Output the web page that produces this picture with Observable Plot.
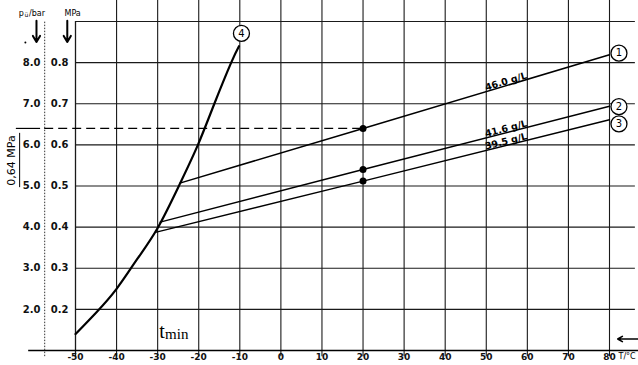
<!DOCTYPE html>
<html>
<head>
<meta charset="utf-8">
<script src="https://cdn.jsdelivr.net/npm/d3@7"></script>
<script src="https://cdn.jsdelivr.net/npm/@observablehq/plot@0.6"></script>
<style>
  html, body { margin: 0; padding: 0; background: #fff; }
</style>
</head>
<body>
<div id="chart"></div>
<script>
// ---- data ----
const tempTicks = [-50, -40, -30, -20, -10, 0, 10, 20, 30, 40, 50, 60, 70, 80];
const mpaTicks = [0.2, 0.3, 0.4, 0.5, 0.6, 0.7, 0.8];
const barLabels = ["2.0", "3.0", "4.0", "5.0", "6.0", "7.0", "8.0"];

// curve 4 (saturation curve)
const curve4T = [-50, -45, -40, -35, -30, -24.7, -20.2, -16.2, -12.1, -10.2];
const curve4P = [0.14, 0.192, 0.25, 0.322, 0.398, 0.503, 0.6, 0.7, 0.8, 0.84];

// isochores 1..3
const line1T = [-24.6, 20, 80];
const line1P = [0.507, 0.64, 0.819];
const line2T = [-29.4, 20, 80];
const line2P = [0.412, 0.54, 0.694];
const line3T = [-30.3, 20, 80];
const line3P = [0.388, 0.512, 0.661];
const lineLabels = ["46.0 g/L", "41.6 g/L", "39.5 g/L"];

const refT = 20;
const refDotsP = [0.64, 0.54, 0.512];
const refPressure = 0.64;
const refPressureLabel = "0,64 MPa";

const toRows = (T, P) => T.map((t, i) => ({T: t, P: P[i]}));
const c4 = toRows(curve4T, curve4P);
const l1 = toRows(line1T, line1P);
const l2 = toRows(line2T, line2P);
const l3 = toRows(line3T, line3P);

const W = 638, H = 365, ML = 75, MR = 29, MT = 21, MB = 15;
const kx = (W - ML - MR) / 130, ky = (H - MT - MB) / 0.8;
const ang = (rows) => -Math.atan(((rows[2].P - rows[1].P) / (rows[2].T - rows[1].T)) * ky / kx) * 180 / Math.PI;
const lineAt = (rows, t) => rows[1].P + (rows[2].P - rows[1].P) / (rows[2].T - rows[1].T) * (t - rows[1].T);

const labelT = 55;
const labelRows = [l1, l2, l3].map((r, i) => ({T: labelT, P: lineAt(r, labelT), text: lineLabels[i], rot: ang(r)}));
const circles = [
  {T: 82.3, P: 0.823, n: "1"},
  {T: 82.3, P: 0.693, n: "2"},
  {T: 82.3, P: 0.651, n: "3"},
  {T: -9.6, P: 0.871, n: "4"}
];

const gridCol = "#1a1a1a";
const font = "DejaVu Sans";

const chart = Plot.plot({
  width: W, height: H,
  marginLeft: ML, marginRight: MR, marginTop: MT, marginBottom: MB,
  x: {domain: [-50, 80]},
  y: {domain: [0.1, 0.9]},
  style: {fontFamily: font, fontSize: "10px", background: "#fff", color: "#111"},
  marks: [
    // horizontal grid + top border
    Plot.ruleY([...mpaTicks, 0.9], {x1: -50, x2: 86.3, stroke: gridCol, strokeWidth: 1.1, clip: false}),
    // vertical grid
    Plot.ruleX(tempTicks.slice(1), {y1: 0.085, y2: 0.952, stroke: gridCol, strokeWidth: 1.1, clip: false}),
    Plot.ruleX([-50], {y1: 0.085, y2: 0.9, stroke: gridCol, strokeWidth: 1.3, clip: false}),
    // bottom axis line
    Plot.ruleY([0.1], {x1: -61.4, x2: 87.5, stroke: "#000", strokeWidth: 1.6, clip: false}),
    // dotted bar-scale axis
    Plot.ruleX([-57.5], {y1: 0.085, y2: 0.9, stroke: "#333", strokeWidth: 1, strokeDasharray: "1.5,1.5", clip: false}),
    // reference pressure line
    Plot.ruleY([refPressure], {x1: -64.4, x2: -58.5, stroke: "#000", strokeWidth: 1.2, clip: false}),
    Plot.ruleY([refPressure], {x1: -57.5, x2: refT, stroke: "#000", strokeWidth: 1.2, strokeDasharray: "9,5", clip: false}),
    Plot.ruleX([-63.6], {y1: 0.496, y2: 0.628, stroke: "#000", strokeWidth: 1, clip: false}),
    Plot.text([refPressureLabel], {x: -65.5, y: 0.562, rotate: -90, fontSize: 11, fill: "#000", clip: false}),
    // curves
    Plot.line(c4, {x: "T", y: "P", stroke: "#000", strokeWidth: 2.2, curve: "natural"}),
    Plot.line(l1, {x: "T", y: "P", stroke: "#000", strokeWidth: 1.5}),
    Plot.line(l2, {x: "T", y: "P", stroke: "#000", strokeWidth: 1.4}),
    Plot.line(l3, {x: "T", y: "P", stroke: "#000", strokeWidth: 1.4}),
    Plot.dot(refDotsP, {x: refT, y: d => d, r: 3.5, fill: "#000", stroke: "none"}),
    // line labels
    Plot.text(labelRows, {x: "T", y: "P", text: "text", rotate: "rot", lineAnchor: "bottom", dy: -1, fontSize: 9.5, fontWeight: "bold", fill: "#000"}),
    // numbered circles
    Plot.dot(circles, {x: "T", y: "P", r: 8, fill: "#fff", stroke: "#000", strokeWidth: 1.3, clip: false}),
    Plot.text(circles, {x: "T", y: "P", text: "n", fontSize: 10, fill: "#000", clip: false}),
    // t_min
    Plot.text(["t"], {x: -29.6, y: 0.1, dy: -13, textAnchor: "start", lineAnchor: "bottom", fontFamily: "Liberation Serif", fontSize: 20, fill: "#000"}),
    Plot.text(["min"], {x: -28.2, y: 0.1, dy: -12, textAnchor: "start", lineAnchor: "bottom", fontFamily: "Liberation Serif", fontSize: 15, fill: "#000"}),
    // axes
    Plot.axisX(tempTicks, {tickSize: 0, tickPadding: 3, tickFormat: d => String(d), label: null, fontSize: 9, fontWeight: "bold"}),
    Plot.axisY(mpaTicks, {tickSize: 0, tickPadding: 7, tickFormat: d => d.toFixed(1), label: null, fontSize: 10, fontWeight: "bold"}),
    Plot.axisY(mpaTicks, {tickSize: 0, tickPadding: 35, tickFormat: (d, i) => barLabels[i], label: null, fontSize: 10, fontWeight: "bold"}),
    // unit labels and arrows
    Plot.text(["T/°C"], {x: 82.2, y: 0.1, dy: 3, lineAnchor: "top", textAnchor: "start", fontSize: 8, fill: "#000", clip: false}),
    Plot.arrow([0], {x1: 87, x2: 82, y1: 0.128, y2: 0.128, stroke: "#000", strokeWidth: 1.6, headLength: 5, clip: false}),
    Plot.text(["p"], {x: -63.8, y: 0.9, dy: -8, textAnchor: "start", fontSize: 8, fill: "#000", clip: false}),
    Plot.text(["ü"], {x: -62.4, y: 0.9, dy: -6, textAnchor: "start", fontSize: 6, fill: "#000", clip: false}),
    Plot.text(["/bar"], {x: -61.3, y: 0.9, dy: -8, textAnchor: "start", fontSize: 8, fill: "#000", clip: false}),
    Plot.text(["MPa"], {x: -50.7, y: 0.9, dy: -8, textAnchor: "middle", fontSize: 8, fill: "#000", clip: false}),
    Plot.arrow([-59.5, -52.0], {x: d => d, y1: 0.902, y2: 0.85, stroke: "#000", strokeWidth: 2, headLength: 6, clip: false}),
    Plot.dot([-62.2], {x: d => d, y: 0.849, r: 1, fill: "#000", clip: false})
  ]
});
document.getElementById("chart").appendChild(chart);
</script>
</body>
</html>
